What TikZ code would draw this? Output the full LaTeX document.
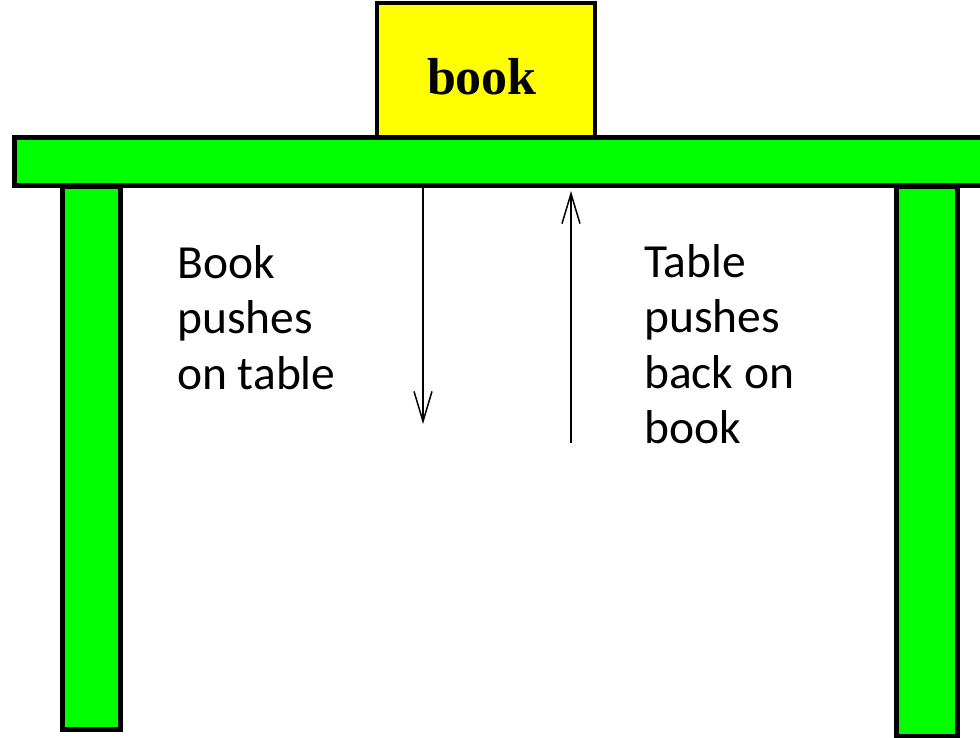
\documentclass[tikz,border=0pt]{standalone}
\usepackage{fontspec}
\setmainfont{Carlito}
\newfontfamily\labelserif{Liberation Serif}
\usetikzlibrary{arrows.meta}

\definecolor{tablegreen}{RGB}{0,255,0}
\definecolor{bookyellow}{RGB}{255,255,0}

\tikzset{
  wood/.style={draw=black, fill=tablegreen, line width=5pt},
  cover/.style={draw=black, fill=bookyellow, line width=4pt},
  force/.style={line width=1.5pt, -{Straight Barb[length=30pt,width=18pt,line width=1.5pt]}},
  caption/.style={align=left, inner sep=0pt, anchor=north west,
    font=\fontsize{47.5pt}{55.5pt}\selectfont}
}

\begin{document}
\begin{tikzpicture}[x=1pt,y=-1pt]
  \useasboundingbox (0,0) rectangle (980,738);
  \clip (0,0) rectangle (980,738);

  % legs first, then the top over them
  \draw[wood] (62,187) rectangle (120,729);
  \draw[wood] (896,187) rectangle (957,736);
  \draw[wood] (14,138) rectangle (990,186);

  % the book resting on the table top
  \draw[cover] (377,3) rectangle (595,137);
  \node[anchor=base, inner sep=0pt,
        font=\labelserif\bfseries\fontsize{52pt}{60pt}\selectfont]
    (booklabel) at (482,95) {book};

  % force arrows
  \coordinate (downstart) at (423,188);
  \coordinate (downend) at (423,424);
  \coordinate (upstart) at (571,443);
  \coordinate (upend) at (571,191);
  \draw[force] (downstart) -- (downend);
  \draw[force] (upstart) -- (upend);

  % captions
  \node[caption] (leftcap) at (177,245) {Book\\pushes\\on table};
  \node[caption] (rightcap) at (644,244) {Table\\pushes\\back on\\book};
\end{tikzpicture}
\end{document}
